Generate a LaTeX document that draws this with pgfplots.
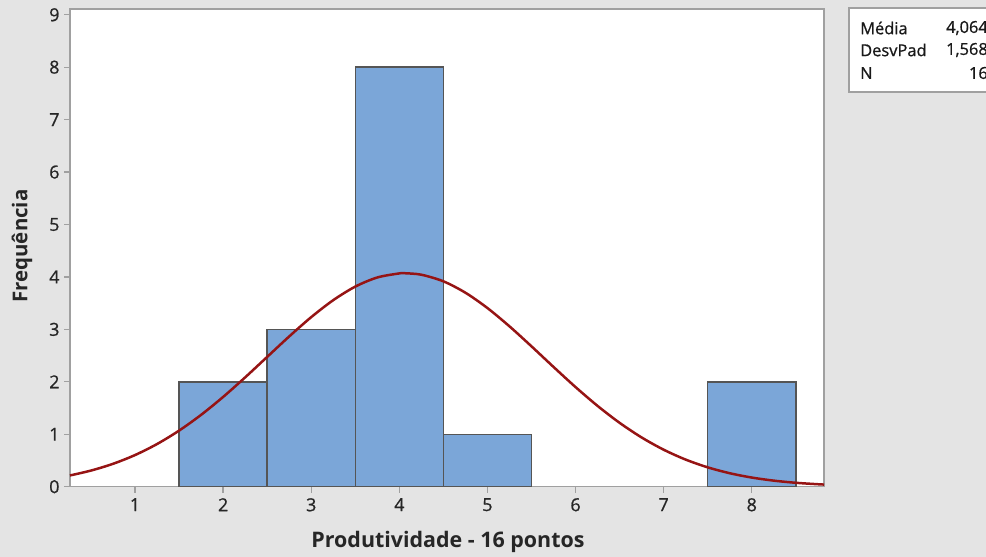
\documentclass[border=0pt]{standalone}
\usepackage{fontspec}
\setmainfont{Open Sans}
\newfontfamily\sbf[FakeBold=0.8]{Open Sans}
\usepackage{pgfplots}
\pgfplotsset{compat=1.18}
\definecolor{bgc}{HTML}{E4E4E4}
\definecolor{barc}{HTML}{7BA6D8}
\definecolor{bare}{HTML}{555555}
\definecolor{curvec}{HTML}{961414}
\definecolor{axc}{HTML}{A0A0A0}
\begin{document}
\begin{tikzpicture}[x=1bp,y=1bp]
\fill[bgc] (0,0) rectangle (986,557);
\useasboundingbox (0,0) rectangle (986,557);
\begin{axis}[
  at={(70bp,70.3bp)}, anchor=south west,
  scale only axis, width=754bp, height=477.7bp,
  xmin=0.262, xmax=8.82, ymin=0, ymax=9.11,
  xtick={1,2,3,4,5,6,7,8}, ytick={0,1,2,3,4,5,6,7,8,9},
  tick align=outside, tick pos=left, major tick length=6bp,
  every tick/.style={axc, line width=1.3pt},
  axis line style={axc, line width=1.5pt},
  axis background/.style={fill=white},
  ticklabel style={font=\sbf\fontsize{18}{19}\selectfont, text=black!85},
  xticklabel style={yshift=-2bp},
  yticklabel style={xshift=-1bp},
  /pgf/number format/assume math mode=true,
  clip=false,
]
\addplot[ybar interval, fill=barc, draw=bare, line width=1.5pt] coordinates {(1.5,2) (2.5,3) (3.5,8) (4.5,1) (5.5,1)};
\addplot[ybar interval, fill=barc, draw=bare, line width=1.5pt] coordinates {(7.5,2) (8.5,2)};
\addplot[curvec, line width=2.5pt, smooth] coordinates {
(0.262,0.2146)(0.5,0.3075)(0.75,0.4362)(1.0,0.6032)(1.25,0.8135)(1.5,1.0692)(1.75,1.3701)(2.0,1.7116)(2.25,2.0848)(2.5,2.4754)(2.75,2.8654)(3.0,3.2338)(3.25,3.5576)(3.5,3.8158)(3.75,3.9900)(4.0,4.0674)(4.064,4.0708)(4.25,4.0423)(4.5,3.9164)(4.75,3.6993)(5.0,3.4065)(5.25,3.0580)(5.5,2.6766)(5.75,2.2836)(6.0,1.8995)(6.25,1.5404)(6.5,1.2178)(6.75,0.9385)(7.0,0.7053)(7.25,0.5166)(7.5,0.3689)(7.75,0.2568)(8.0,0.1743)(8.25,0.1154)(8.5,0.0744)(8.75,0.0468)(8.82,0.0409)};
\end{axis}
\node[font=\bfseries\fontsize{21.5}{22}\selectfont, text=black!85] at (448,15) {Produtividade - 16 pontos};
\node[font=\bfseries\fontsize{20.5}{21}\selectfont, text=black!85, rotate=90] at (22,311) {Frequência};
\filldraw[fill=white, draw=axc, line width=1.2pt] (849,465) rectangle (1000,549);
\begin{scope}[every node/.style={font=\sbf\fontsize{16.5}{17}\selectfont, text=black!90, inner sep=0pt}]
\node[anchor=west] at (860,529) {Média};
\node[anchor=west] at (860,507) {DesvPad};
\node[anchor=west] at (860,484) {N};
\node[anchor=east] at (988,529) {4,064};
\node[anchor=east] at (988,507) {1,568};
\node[anchor=east] at (988,484) {16};
\end{scope}
\end{tikzpicture}
\end{document}
